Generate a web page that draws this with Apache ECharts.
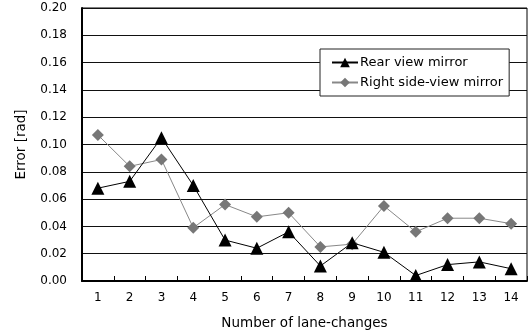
<!DOCTYPE html>
<html>
<head>
<meta charset="utf-8">
<script src="https://cdn.jsdelivr.net/npm/echarts@6/dist/echarts.min.js"></script>
<style>
  html, body { margin: 0; padding: 0; background: #fff; }
  #chart { width: 529px; height: 333px; }
</style>
</head>
<body>
<div id="chart"></div>
<script>
// Lane-change trials
var laneChanges = ['1', '2', '3', '4', '5', '6', '7', '8', '9', '10', '11', '12', '13', '14'];
// Estimation error per trial [rad]
var rearViewMirror = [0.068, 0.073, 0.105, 0.070, 0.030, 0.024, 0.036, 0.011, 0.028, 0.021, 0.004, 0.012, 0.014, 0.009];
var rightSideViewMirror = [0.107, 0.084, 0.089, 0.039, 0.056, 0.047, 0.050, 0.025, 0.027, 0.055, 0.036, 0.046, 0.046, 0.042];

var FONT = '"DejaVu Sans", sans-serif';

var chart = echarts.init(document.getElementById('chart'), null, { renderer: 'canvas' });
chart.setOption({
  animation: false,
  backgroundColor: '#fff',
  textStyle: { fontFamily: FONT },
  grid: {
    left: 82, right: 2, top: 8, bottom: 52,
    containLabel: false,
    outerBoundsMode: 'none',
    show: true, borderColor: '#000', borderWidth: 1
  },
  legend: {
    orient: 'vertical',
    left: 320, top: 49,
    width: 189,
    padding: [7, 6, 7, 11],
    itemGap: 7,
    itemWidth: 26, itemHeight: 12,
    backgroundColor: '#fff',
    borderColor: '#222', borderWidth: 1,
    textStyle: { fontFamily: FONT, fontSize: 13, color: '#000', padding: [0, 0, 0, -3] },
    data: ['Rear view mirror', 'Right side-view mirror']
  },
  xAxis: {
    type: 'category',
    data: laneChanges,
    boundaryGap: true,
    name: 'Number of lane-changes',
    nameLocation: 'middle',
    nameGap: 35,
    nameMoveOverlap: false,
    nameTextStyle: { fontFamily: FONT, fontSize: 13.5, color: '#000' },
    axisLine: { lineStyle: { color: '#000', width: 2 } },
    axisTick: { show: true, inside: true, length: 5, alignWithLabel: false, lineStyle: { color: '#000' } },
    axisLabel: { color: '#000', fontSize: 12, margin: 11, fontFamily: FONT },
    splitLine: { show: false }
  },
  yAxis: {
    type: 'value',
    min: 0, max: 0.2, interval: 0.02,
    name: 'Error [rad]',
    nameLocation: 'middle',
    nameGap: 54,
    nameMoveOverlap: false,
    nameRotate: 90,
    nameTextStyle: { fontFamily: FONT, fontSize: 13.5, color: '#000' },
    axisLine: { show: true, lineStyle: { color: '#000', width: 2 } },
    axisTick: { show: false },
    axisLabel: {
      color: '#000', fontSize: 12, margin: 15, fontFamily: FONT,
      formatter: function (v) { return v.toFixed(2); }
    },
    splitLine: { show: true, lineStyle: { color: '#111', width: 1 } }
  },
  series: [
    {
      name: 'Rear view mirror',
      type: 'line',
      data: rearViewMirror,
      symbol: 'triangle',
      symbolSize: 13,
      itemStyle: { color: '#000' },
      lineStyle: { color: '#000', width: 1 },
      z: 3
    },
    {
      name: 'Right side-view mirror',
      type: 'line',
      data: rightSideViewMirror,
      symbol: 'diamond',
      symbolSize: 12,
      itemStyle: { color: '#777' },
      lineStyle: { color: '#888', width: 1 },
      z: 2
    }
  ]
});
</script>
</body>
</html>
